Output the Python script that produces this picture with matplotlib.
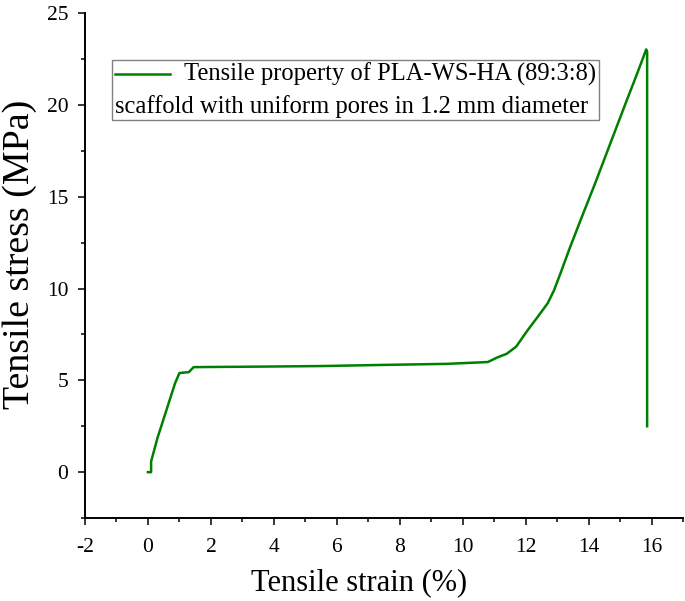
import numpy as np
import matplotlib
matplotlib.use("Agg")
import matplotlib.pyplot as plt
from matplotlib.lines import Line2D
from matplotlib.offsetbox import DrawingArea, TextArea, HPacker, VPacker, AnchoredOffsetbox
from matplotlib.ticker import MultipleLocator

plt.rcParams['font.family'] = ['Liberation Serif', 'DejaVu Serif']
plt.rcParams['axes.unicode_minus'] = False

# strain (%) and stress (MPa)
strain = [0.0, 0.1, 0.1, 0.3, 0.6, 0.86, 1.0, 1.3, 1.45, 2.0, 3.6, 5.5, 7.4,
          9.5, 10.8, 11.1, 11.4, 11.7, 12.05, 12.4, 12.7, 12.9, 13.1, 13.4,
          13.75, 14.2, 14.6, 14.9, 15.2, 15.45, 15.65, 15.78, 15.83, 15.86, 15.86]
stress = [0.0, 0.0, 0.58, 1.85, 3.45, 4.84, 5.4, 5.45, 5.72, 5.73, 5.75, 5.78,
          5.84, 5.9, 6.0, 6.25, 6.45, 6.84, 7.7, 8.5, 9.2, 9.9, 10.8, 12.2,
          13.75, 15.7, 17.5, 18.85, 20.2, 21.3, 22.2, 22.8, 23.03, 22.9, 2.5]

legend_line1 = "Tensile property of PLA-WS-HA (89:3:8)"
legend_line2 = "scaffold with uniform pores in 1.2 mm diameter"
xticks = np.arange(-2, 17, 2)
yticks = np.arange(0, 26, 5)

fig = plt.figure(figsize=(6.85, 6.01), dpi=100)
ax = fig.add_axes([0.1241, 0.138, 0.873, 0.840])

ax.plot(strain, stress, color='green', lw=1.8)

ax.set_xlim(-2, 17)
ax.set_ylim(-2.5, 25)
ax.set_xticks(xticks)
ax.set_yticks(yticks)
ax.xaxis.set_minor_locator(MultipleLocator(1))
ax.yaxis.set_minor_locator(MultipleLocator(2.5))
ax.tick_params(which='major', direction='out', length=5, width=1.1, labelsize=15.5)
ax.tick_params(which='minor', direction='out', length=3, width=1.1)
ax.tick_params(axis='x', which='major', pad=9)
ax.tick_params(axis='y', which='major', pad=7)
for s in ['top', 'right']:
    ax.spines[s].set_visible(False)
for s in ['left', 'bottom']:
    ax.spines[s].set_linewidth(1.4)

ax.set_xlabel("Tensile strain (%)", fontsize=22)
ax.set_ylabel("Tensile stress (MPa)", fontsize=27.3)
ax.xaxis.set_label_coords(0.458, -0.099)
ax.yaxis.set_label_coords(-0.081, 0.523)

# legend-like box: handle + first line, second line starts at left edge
da = DrawingArea(40, 12, 0, 0)
da.add_artist(Line2D([0, 40], [6, 6], color='green', lw=1.8))
t1 = TextArea(legend_line1, textprops=dict(fontsize=17.7))
t2 = TextArea(legend_line2, textprops=dict(fontsize=17.7))
row1 = HPacker(children=[da, t1], align='center', pad=0, sep=10)
box = VPacker(children=[row1, t2], align='left', pad=0, sep=6)
anch = AnchoredOffsetbox(loc='upper left', child=box, pad=0.2, borderpad=0,
                         frameon=True, bbox_to_anchor=(112 / 685, 1 - 60 / 601),
                         bbox_transform=fig.transFigure)
anch.patch.set_edgecolor('#808080')
anch.patch.set_linewidth(1.0)
ax.add_artist(anch)

fig.savefig("out.png", dpi=100)
